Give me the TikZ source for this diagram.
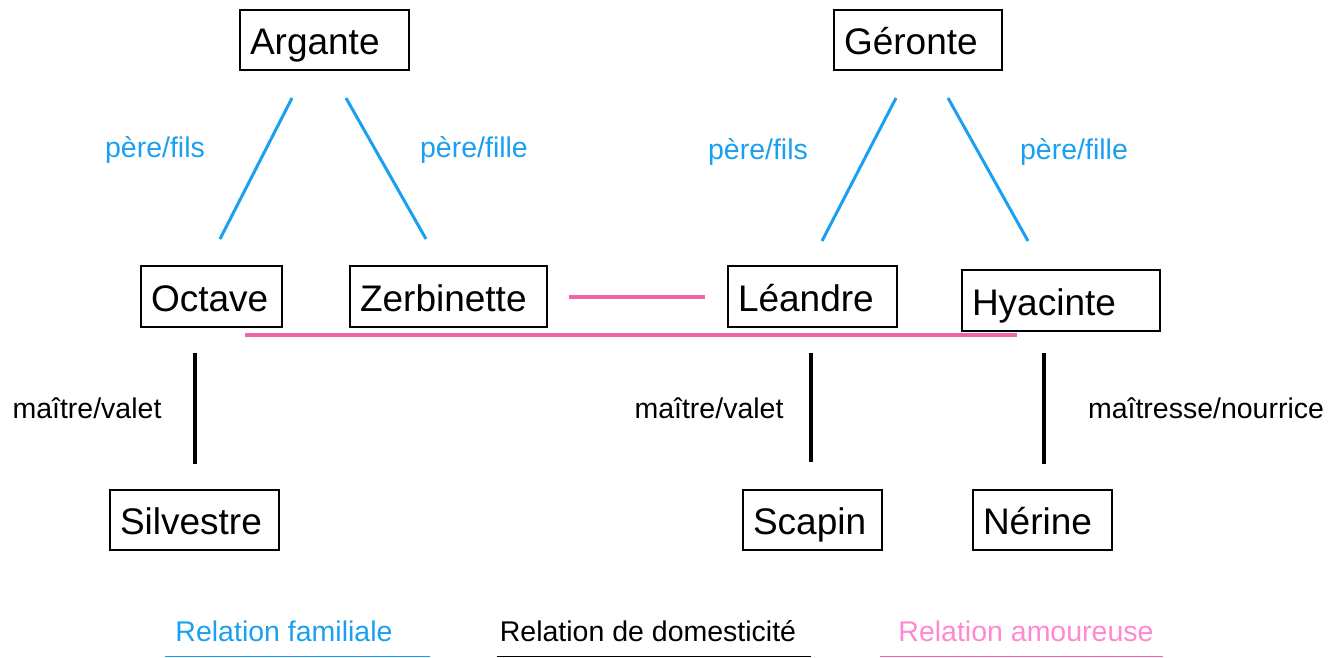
\documentclass[tikz,border=0pt]{standalone}
\usepackage{fontspec}
\setmainfont{Liberation Sans}
\usetikzlibrary{calc}
\definecolor{famblue}{RGB}{26,160,240}
\definecolor{lovepink}{RGB}{240,100,170}
\definecolor{lovetext}{RGB}{255,136,208}
\tikzset{
  person/.style={draw=black, line width=2pt, minimum height=60pt, inner xsep=10pt, inner ysep=0pt, text height=29pt, text depth=0pt, align=left, font=\fontsize{37}{44}\selectfont},
  lab/.style={font=\fontsize{28.5}{32}\selectfont, inner sep=0pt},
  fam/.style={draw=famblue, line width=3pt},
  dom/.style={draw=black, line width=3.5pt},
  love/.style={draw=lovepink, line width=4pt},
}
\begin{document}
\begin{tikzpicture}[x=1pt, y=-1pt]
\useasboundingbox (0,0) rectangle (1331,658);
% persons
\node[person, text width=149pt] (arg) at (324.5,40) {Argante};
\node[person, text width=148pt] (ger) at (918,40) {Géronte};
\node[person, text width=121pt, minimum height=61pt] (oct) at (211.5,296.5) {Octave};
\node[person, text width=177pt, minimum height=61pt] (zer) at (448.5,296.5) {Zerbinette};
\node[person, text width=149pt, minimum height=61pt] (lea) at (812.5,296.5) {Léandre};
\node[person, text width=178pt, minimum height=61pt] (hya) at (1061,300.5) {Hyacinte};
\node[person, text width=149pt] (sil) at (194.5,520) {Silvestre};
\node[person, text width=119pt] (sca) at (812.5,520) {Scapin};
\node[person, text width=119pt] (ner) at (1042.5,520) {Nérine};
% connector ends
\coordinate (a1) at ($(arg.south)+(-32.5,27)$);
\coordinate (o1) at ($(oct.north)+(8.5,-26)$);
\coordinate (a2) at ($(arg.south)+(21.5,27)$);
\coordinate (z1) at ($(zer.north)+(-22.5,-26)$);
\coordinate (g1) at ($(ger.south)+(-22,27)$);
\coordinate (l1) at ($(lea.north)+(9.5,-24)$);
\coordinate (g2) at ($(ger.south)+(30,27)$);
\coordinate (h1) at ($(hya.north)+(-33,-28)$);
\coordinate (o2) at ($(oct.south)+(-16.5,25)$);
\coordinate (s1) at ($(sil.north)+(0.5,-25)$);
\coordinate (l2) at ($(lea.south)+(-1.5,25)$);
\coordinate (s2) at ($(sca.north)+(-1.5,-27)$);
\coordinate (h2) at ($(hya.south)+(-17,21)$);
\coordinate (n1) at ($(ner.north)+(1.5,-25)$);
\coordinate (o3) at ($(oct.south)+(33.5,7)$);
\coordinate (h3) at ($(hya.south)+(-44,3)$);
% family
\draw[fam] (a1) -- (o1);
\draw[fam] (a2) -- (z1);
\draw[fam] (g1) -- (l1);
\draw[fam] (g2) -- (h1);
\node[lab, text=famblue] (t1) at (155,150) {père/fils};
\node[lab, text=famblue] (t2) at (474,150) {père/fille};
\node[lab, text=famblue] (t3) at (758,152) {père/fils};
\node[lab, text=famblue] (t4) at (1074,152) {père/fille};
% domestic
\draw[dom] (o2) -- (s1);
\draw[dom] (l2) -- (s2);
\draw[dom] (h2) -- (n1);
\node[lab] (t5) at (87,408) {maître/valet};
\node[lab] (t6) at (709,408) {maître/valet};
\node[lab] (t7) at (1206,408) {maîtresse/nourrice};
% love
\draw[love, shorten <=21pt, shorten >=22pt] (zer.east) -- (lea.west);
\draw[love] (o3) -- (h3);
% legend
\node[lab, text=famblue] (lg1) at (284,631) {Relation familiale};
\node[lab] (lg2) at (648,631) {Relation de domesticité};
\node[lab, text=lovetext] (lg3) at (1026,631) {Relation amoureuse};
\draw[famblue, line width=1.5pt] (165,656.5) -- (430,656.5);
\draw[black, line width=1.5pt] (497,656.5) -- (811,656.5);
\draw[lovepink, line width=1.5pt] (880,656.5) -- (1163,656.5);
\end{tikzpicture}
\end{document}
